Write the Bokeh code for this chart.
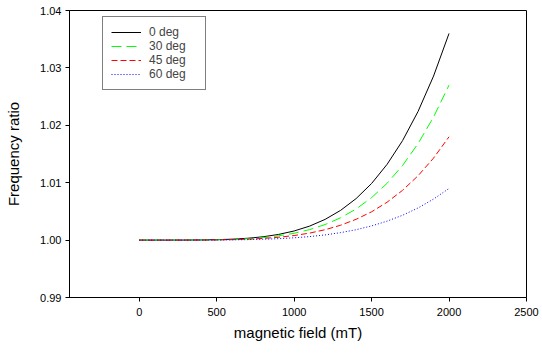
from bokeh.plotting import figure
from bokeh.models import FixedTicker, PrintfTickFormatter, Legend, LegendItem, Range1d
from bokeh.embed import file_html
from bokeh.resources import INLINE

field = [0, 100, 200, 300, 400, 500, 600, 700, 800, 900, 1000,
         1100, 1200, 1300, 1400, 1500, 1600, 1700, 1800, 1900, 2000]
deg0 = [1.0, 1.0000001, 1.0000011, 1.0000071, 1.0000257, 1.0000702, 1.000159, 1.00032, 1.000583, 1.00099, 1.00159,
        1.00244, 1.00361, 1.00518, 1.00723, 1.00986, 1.01319, 1.01733, 1.02241, 1.02858, 1.036]
deg30 = [1.0, 1.0000000, 1.0000008, 1.0000053, 1.0000193, 1.0000527, 1.000119, 1.00024, 1.000437, 1.000743, 1.00119,
         1.00183, 1.00271, 1.00389, 1.00542, 1.0074, 1.00989, 1.013, 1.01681, 1.02144, 1.027]
deg45 = [1.0, 1.0000000, 1.0000006, 1.0000035, 1.0000129, 1.0000351, 1.00008, 1.00016, 1.000292, 1.000495, 1.000795,
         1.00122, 1.00181, 1.00259, 1.00362, 1.00493, 1.0066, 1.00867, 1.01121, 1.01429, 1.018]
deg60 = [1.0, 1.0000000, 1.0000003, 1.0000018, 1.0000064, 1.0000176, 1.00004, 1.00008, 1.000146, 1.000248, 1.000398,
         1.00061, 1.000903, 1.0013, 1.00181, 1.00247, 1.0033, 1.00433, 1.0056, 1.00715, 1.009]
labels = ["0 deg", "30 deg", "45 deg", "60 deg"]
x_ticks = [0, 500, 1000, 1500, 2000, 2500]
y_ticks = [0.99, 1.00, 1.01, 1.02, 1.03, 1.04]

FONT = "Liberation Sans"

p = figure(width=542, height=354, output_backend="svg", toolbar_location=None,
           x_range=Range1d(-450, 2500), y_range=Range1d(0.99, 1.04),
           min_border_left=69, min_border_right=16, min_border_top=10, min_border_bottom=57)
p.grid.visible = False
p.outline_line_color = "black"
p.outline_line_width = 1
p.background_fill_color = "white"
p.border_fill_color = "white"

r0 = p.line(field, deg0, line_color="black", line_width=1)
r1 = p.line(field, deg30, line_color="#00ff00", line_width=1, line_dash="10 5")
r2 = p.line(field, deg45, line_color="#ff0000", line_width=1, line_dash="6 3")
r3 = p.line(field, deg60, line_color="#0000ff", line_width=1, line_dash="1 2")

for ax in (p.xaxis[0], p.yaxis[0]):
    ax.axis_line_color = "black"
    ax.major_tick_line_color = "black"
    ax.minor_tick_line_color = None
    ax.major_tick_out = 4
    ax.major_tick_in = 0
    ax.major_label_text_font = FONT
    ax.major_label_text_font_size = "11px"
    ax.major_label_text_color = "black"
    ax.axis_label_text_font = FONT
    ax.axis_label_text_font_size = "15px"
    ax.axis_label_text_font_style = "normal"
    ax.axis_label_text_color = "black"

p.xaxis.ticker = FixedTicker(ticks=x_ticks)
p.yaxis.ticker = FixedTicker(ticks=y_ticks)
p.yaxis.formatter = PrintfTickFormatter(format="%.2f")
p.xaxis.axis_label = "magnetic field (mT)"
p.yaxis.axis_label = "Frequency ratio"
p.xaxis.major_label_standoff = 6
p.yaxis.major_label_standoff = 4
p.xaxis.axis_label_standoff = 5
p.yaxis.axis_label_standoff = 15

legend = Legend(items=[LegendItem(label=l, renderers=[r]) for l, r in zip(labels, [r0, r1, r2, r3])],
                location=(33, 207))
legend.label_text_font = FONT
legend.label_text_font_size = "12px"
legend.label_height = 14
legend.glyph_height = 14
legend.glyph_width = 30
legend.label_width = 48
legend.spacing = 0
legend.padding = 8
legend.margin = 0
legend.label_standoff = 8
legend.border_line_color = "black"
legend.border_line_width = 1
legend.background_fill_alpha = 1
p.add_layout(legend, "center")

open("out.html", "w").write(file_html(p, INLINE))
